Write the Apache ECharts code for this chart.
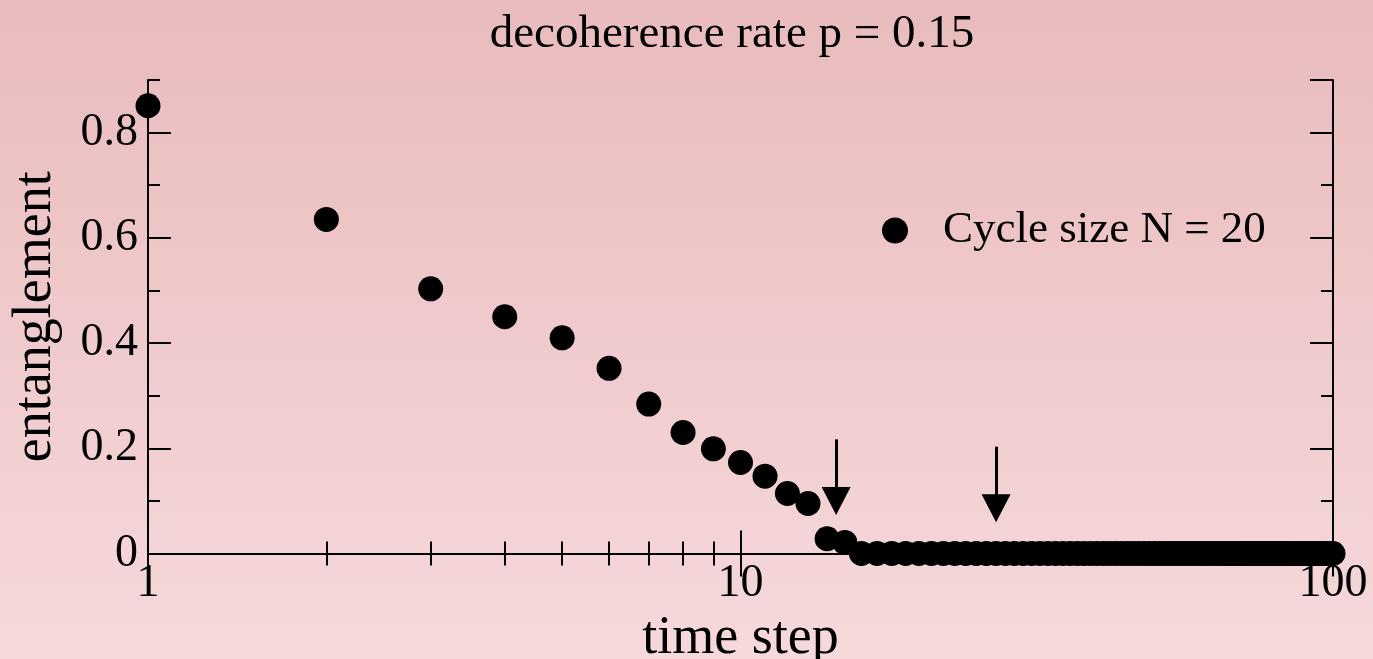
<!DOCTYPE html>
<html>
<head>
<meta charset="utf-8">
<script src="https://cdn.jsdelivr.net/npm/echarts@6/dist/echarts.min.js"></script>
<style>
  html, body { margin: 0; padding: 0; }
  #chart { width: 1373px; height: 659px; }
</style>
</head>
<body>
<div id="chart"></div>
<script>
// Time steps (1 .. 100)
const timeSteps = [
  1, 2, 3, 4, 5, 6, 7, 8, 9, 10,
  11, 12, 13, 14, 15, 16, 17, 18, 19, 20,
  21, 22, 23, 24, 25, 26, 27, 28, 29, 30,
  31, 32, 33, 34, 35, 36, 37, 38, 39, 40,
  41, 42, 43, 44, 45, 46, 47, 48, 49, 50,
  51, 52, 53, 54, 55, 56, 57, 58, 59, 60,
  61, 62, 63, 64, 65, 66, 67, 68, 69, 70,
  71, 72, 73, 74, 75, 76, 77, 78, 79, 80,
  81, 82, 83, 84, 85, 86, 87, 88, 89, 90,
  91, 92, 93, 94, 95, 96, 97, 98, 99, 100
];

// Entanglement for cycle size N = 20
const entanglement = [
  0.851, 0.635, 0.503, 0.450, 0.410, 0.352, 0.284, 0.230, 0.199, 0.173,
  0.147, 0.114, 0.095, 0.028, 0.021, 0, 0, 0, 0, 0,
  0, 0, 0, 0, 0, 0, 0, 0, 0, 0,
  0, 0, 0, 0, 0, 0, 0, 0, 0, 0,
  0, 0, 0, 0, 0, 0, 0, 0, 0, 0,
  0, 0, 0, 0, 0, 0, 0, 0, 0, 0,
  0, 0, 0, 0, 0, 0, 0, 0, 0, 0,
  0, 0, 0, 0, 0, 0, 0, 0, 0, 0,
  0, 0, 0, 0, 0, 0, 0, 0, 0, 0,
  0, 0, 0, 0, 0, 0, 0, 0, 0, 0
];

// Arrow annotations (time step, shaft top and arrowhead centre in entanglement units)
const arrowX = [14.5, 27];
const arrowTop = [0.217, 0.203];
const arrowTip = [0.100, 0.086];

const seriesName = 'Cycle size N = 20';
const titleText = 'decoherence rate p = 0.15';
const xName = 'time step';
const yName = 'entanglement';

const FONT = 'Liberation Serif';
const INK = '#000';

const points = timeSteps.map((t, i) => [t, entanglement[i]]);
const arrows = arrowX.map((x, i) => [
  { coord: [x, arrowTop[i]] },
  { coord: [x, arrowTip[i]] }
]);

const line = { color: INK, width: 2 };

function logAxis(pos, withLabels) {
  return {
    type: 'log', logBase: 10, min: 1, max: 100, position: pos,
    name: withLabels ? xName : '', nameLocation: 'middle', nameGap: 48,
    nameTextStyle: { fontFamily: FONT, fontSize: 54, color: INK },
    axisLine: { show: true, lineStyle: line },
    axisTick: { show: true, inside: true, length: 23, lineStyle: line },
    minorTick: { show: true, splitNumber: 9, length: 12, lineStyle: line },
    axisLabel: { show: withLabels, margin: 7, fontFamily: FONT, fontSize: 46, color: INK },
    splitLine: { show: false },
    minorSplitLine: { show: false }
  };
}

function valueAxis(pos, step, tickLen, withLabels, showLine) {
  return {
    type: 'value', min: 0, max: 0.9, interval: step, position: pos, offset: 0,
    name: withLabels ? yName : '', nameLocation: 'middle', nameGap: 85,
    nameTextStyle: { fontFamily: FONT, fontSize: 54, color: INK },
    axisLine: { show: showLine, onZero: false, lineStyle: line },
    axisTick: { show: true, inside: true, length: tickLen, lineStyle: line },
    axisLabel: { show: withLabels, showMaxLabel: false, margin: 10, fontFamily: FONT, fontSize: 46, color: INK },
    splitLine: { show: false }
  };
}

const chart = echarts.init(document.getElementById('chart'), null, { renderer: 'canvas' });
chart.setOption({
  animation: false,
  backgroundColor: {
    type: 'linear', x: 0, y: 0, x2: 0, y2: 1,
    colorStops: [
      { offset: 0, color: '#e9bbbd' },
      { offset: 1, color: '#f6d9db' }
    ]
  },
  title: {
    text: titleText, left: 727, top: 6, textAlign: 'center',
    textStyle: { fontFamily: FONT, fontSize: 47, fontWeight: 'normal', color: INK }
  },
  legend: {
    data: [seriesName], left: 877, top: 203, icon: 'circle',
    itemWidth: 26, itemHeight: 26,
    textStyle: { fontFamily: FONT, fontSize: 45, color: INK, padding: [0, 0, 0, 30] }
  },
  grid: {
    left: 148, right: 40, top: 80, bottom: 105.5,
    containLabel: false, outerBoundsMode: 'none'
  },
  xAxis: [logAxis('bottom', true), logAxis('top', false)],
  yAxis: [
    valueAxis('left', 0.2, 23, true, true),
    valueAxis('left', 0.1, 12, false, false),
    valueAxis('right', 0.2, 23, false, true),
    valueAxis('right', 0.1, 12, false, false)
  ],
  series: [{
    name: seriesName, type: 'scatter', xAxisIndex: 0, yAxisIndex: 0,
    data: points, symbol: 'circle', symbolSize: 25, clip: false,
    itemStyle: { color: INK, opacity: 1 },
    z: 5,
    markLine: {
      silent: true, symbol: ['none', 'triangle'], symbolSize: [29, 28],
      lineStyle: { color: INK, width: 3, type: 'solid', opacity: 1 },
      itemStyle: { color: INK },
      label: { show: false },
      data: arrows
    }
  }]
});
</script>
</body>
</html>
